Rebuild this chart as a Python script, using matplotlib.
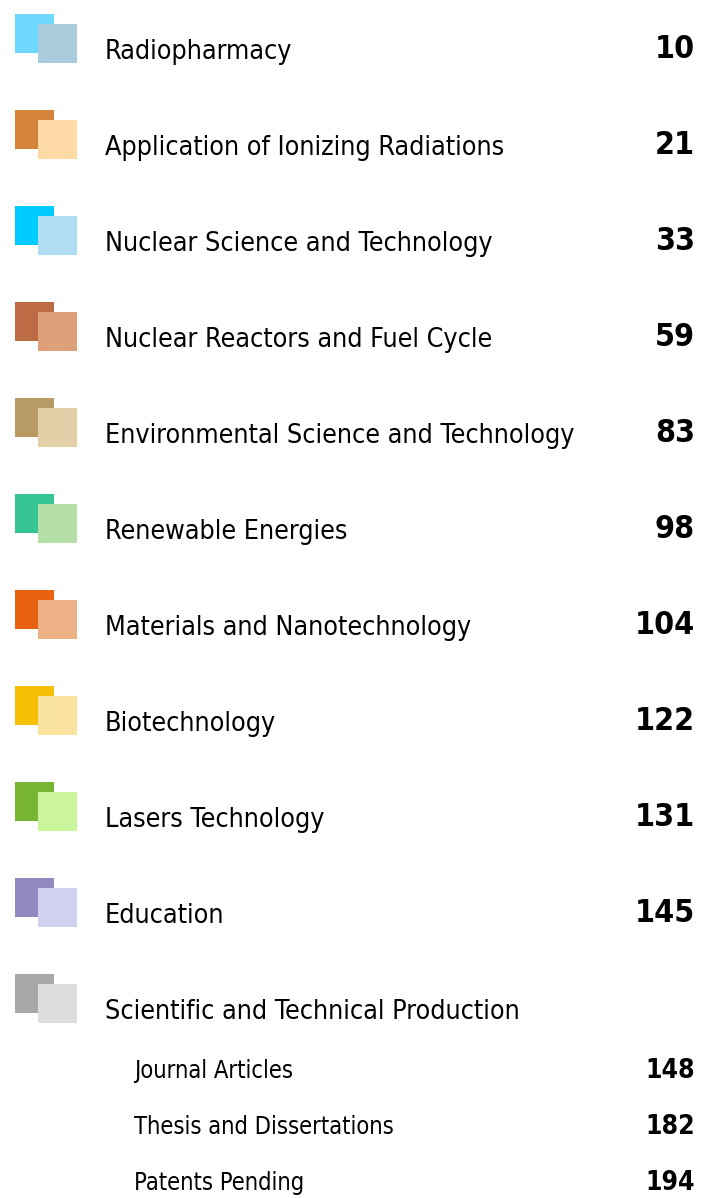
import matplotlib.pyplot as plt
from matplotlib.patches import Rectangle

# sections of the contents page
titles = ['Radiopharmacy', 'Application of Ionizing Radiations',
          'Nuclear Science and Technology', 'Nuclear Reactors and Fuel Cycle',
          'Environmental Science and Technology', 'Renewable Energies',
          'Materials and Nanotechnology', 'Biotechnology', 'Lasers Technology',
          'Education', 'Scientific and Technical Production']
pages = [10, 21, 33, 59, 83, 98, 104, 122, 131, 145, None]
back_colors = ['#6fd8ff', '#d6843c', '#00ccff', '#bc6b44', '#b89a64', '#38c596',
               '#e8620f', '#f5c004', '#78b533', '#9488c0', '#a8a8a8']
front_colors = ['#a9cbdc', '#ffd9a6', '#b0dcf4', '#dea07a', '#e3d0a8', '#b5dfa8',
                '#ecb286', '#f9e39f', '#cbf59b', '#d0d0f0', '#dddddd']

# sub entries of the last section
sub_titles = ['Journal Articles', 'Thesis and Dissertations', 'Patents Pending']
sub_pages = [148, 182, 194]

W, H = 702, 1198
fig = plt.figure(figsize=(W / 100, H / 100), dpi=100)
ax = fig.add_axes([0, 0, 1, 1])
ax.set_xlim(0, W)
ax.set_ylim(H, 0)
ax.axis('off')

# DejaVu Sans Condensed is the closest narrow face available
font = dict(family='DejaVu Sans', stretch='condensed')

step = 96   # row pitch in px
sq = 39     # icon square size
for i, (t, p) in enumerate(zip(titles, pages)):
    top = 14 + step * i
    ax.add_patch(Rectangle((15, top), sq, sq, color=back_colors[i], lw=0))
    ax.add_patch(Rectangle((38, top + 10), sq, sq, color=front_colors[i], lw=0))
    ax.text(105, top + 45, t, fontsize=19.3, va='baseline', ha='left', **font)
    if p is not None:
        ax.text(695, top + 44, str(p), fontsize=23, fontweight='bold',
                va='baseline', ha='right', **font)

for j, (t, p) in enumerate(zip(sub_titles, sub_pages)):
    y = 1078 + 56 * j
    ax.text(134, y, t, fontsize=17, va='baseline', ha='left', **font)
    ax.text(695, y, str(p), fontsize=19, fontweight='bold',
            va='baseline', ha='right', **font)

fig.savefig('out.png', dpi=100)
